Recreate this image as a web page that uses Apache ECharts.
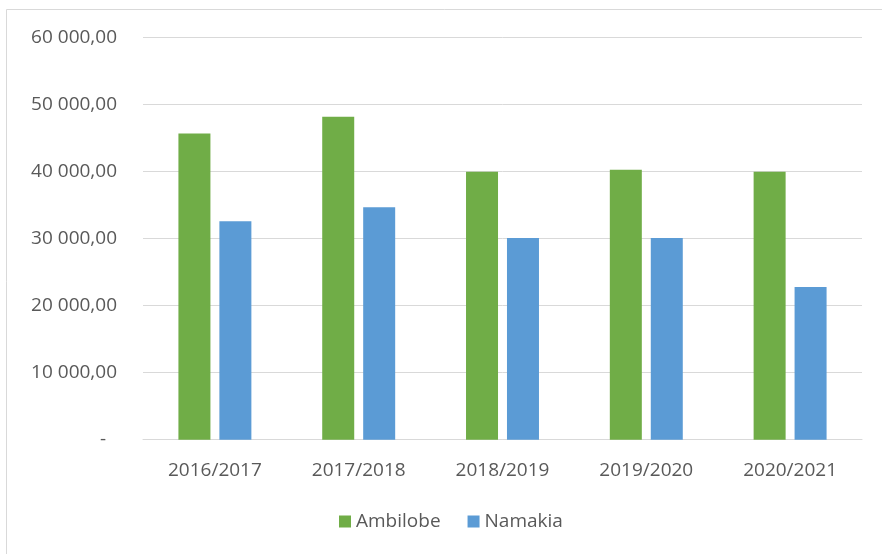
<!DOCTYPE html>
<html>
<head>
<meta charset="utf-8">
<script src="https://cdn.jsdelivr.net/npm/echarts@6/dist/echarts.min.js"></script>
<style>
html,body{margin:0;padding:0;background:#fff;}
#chart{width:882px;height:554px;}
</style>
</head>
<body>
<div id="chart"></div>
<script>
const categories = ['2016/2017', '2017/2018', '2018/2019', '2019/2020', '2020/2021'];
const ambilobe = [45700, 48200, 40000, 40300, 40000];
const namakia = [32600, 34700, 30100, 30100, 22800];
const seriesNames = ['Ambilobe', 'Namakia'];

function fmt(v) {
  if (v === 0) return '{dash|-}';
  const s = v.toFixed(2).replace('.', ',');
  const [ip, dp] = s.split(',');
  return ip.replace(/\B(?=(\d{3})+(?!\d))/g, ' ') + ',' + dp;
}

const chart = echarts.init(document.getElementById('chart'));
const textColor = '#595959';
const font = 'Open Sans';
const fs = 19;
chart.setOption({
  animation: false,
  backgroundColor: '#fff',
  graphic: [{
    type: 'polyline',
    shape: { points: [[6.5, 554], [6.5, 9.5], [882, 9.5]] },
    style: { stroke: '#d9d9d9', lineWidth: 1, fill: null }
  }],
  grid: { left: 143, right: 20, top: 37.7, bottom: 114.3 },
  legend: {
    data: seriesNames,
    top: 507,
    left: 334,
    itemWidth: 12,
    itemHeight: 12,
    itemGap: 27,
    icon: 'rect',
    textStyle: { color: textColor, fontSize: fs, fontFamily: font }
  },
  xAxis: {
    type: 'category',
    data: categories,
    axisLine: { lineStyle: { color: '#d9d9d9', width: 1 } },
    axisTick: { show: false },
    axisLabel: { color: textColor, fontSize: fs, fontFamily: font, margin: 21 }
  },
  yAxis: {
    type: 'value',
    min: 0,
    max: 60000,
    interval: 10000,
    axisLine: { show: false },
    axisTick: { show: false },
    splitLine: { lineStyle: { color: '#d9d9d9', width: 1 } },
    axisLabel: {
      color: textColor, fontSize: fs, fontFamily: font, margin: 26,
      formatter: fmt,
      rich: { dash: { color: textColor, fontSize: fs, fontFamily: font, padding: [0, 11, 0, 0] } }
    }
  },
  series: [
    { name: seriesNames[0], type: 'bar', data: ambilobe, barWidth: 32, barGap: '28%',
      itemStyle: { color: '#70ad47' } },
    { name: seriesNames[1], type: 'bar', data: namakia, barWidth: 32, barGap: '28%',
      itemStyle: { color: '#5b9bd5' } }
  ]
});
</script>
</body>
</html>
